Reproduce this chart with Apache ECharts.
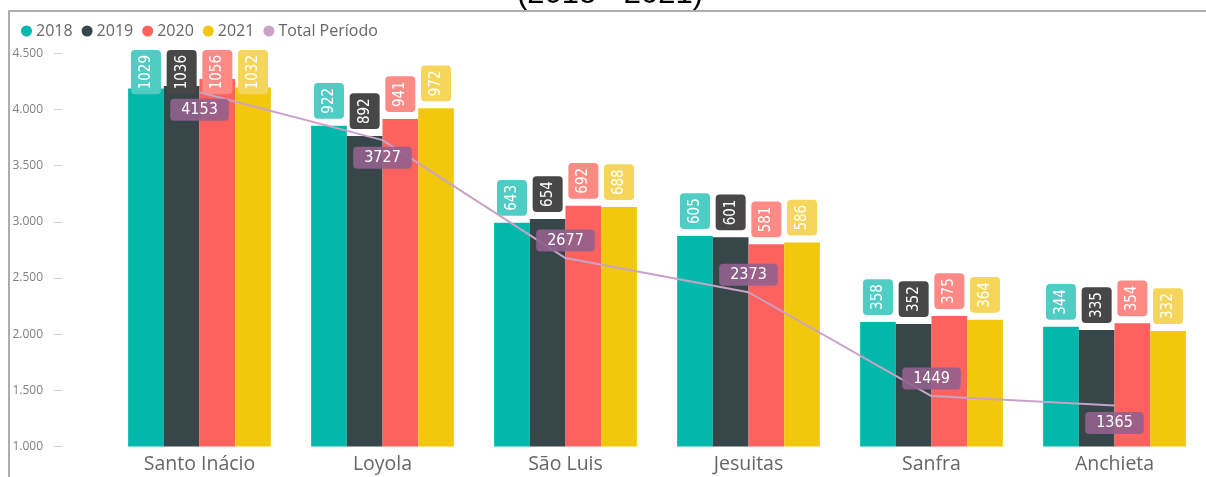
<!DOCTYPE html>
<html>
<head>
<meta charset="utf-8">
<script src="https://cdn.jsdelivr.net/npm/echarts@6/dist/echarts.min.js"></script>
<style>
html,body{margin:0;padding:0;background:#fff;}
#chart{width:1206px;height:477px;}
</style>
</head>
<body>
<div id="chart"></div>
<script>
const categories = ['Santo Inácio', 'Loyola', 'São Luis', 'Jesuitas', 'Sanfra', 'Anchieta'];
const years = ['2018', '2019', '2020', '2021'];
const values2018 = [1029, 922, 643, 605, 358, 344];
const values2019 = [1036, 892, 654, 601, 352, 335];
const values2020 = [1056, 941, 692, 581, 375, 354];
const values2021 = [1032, 972, 688, 586, 364, 332];
const totalPeriodo = [4153, 3727, 2677, 2373, 1449, 1365];
const totalName = 'Total Período';
const titleText = '(2018 - 2021)';

const barColors = ['#01B8AA', '#374649', '#FD625E', '#F2C80F'];
const labelBg = ['#4FCDC4', '#474747', '#FE8A86', '#F5D65A'];
const numFont = '"DejaVu Sans Condensed", "DejaVu Sans", sans-serif';
const uiFont = '"Open Sans", "Noto Sans", sans-serif';
const yearValues = [values2018, values2019, values2020, values2021];
const LABEL_TOP_LIMIT = 50;
const LABEL_DIST = 7;
const LABEL_FONT_SIZE = 15;
const LABEL_PAD = [6, 5];

function buildBarSeries(offsets) {
  return years.map((y, i) => ({
    name: y,
    type: 'bar',
    yAxisIndex: 1,
    data: yearValues[i].map((v, j) => {
      const d = offsets ? offsets[i][j] : 0;
      return d > 0 ? { value: v, label: { offset: [-d, 0] } } : v;
    }),
    barGap: '0%',
    barCategoryGap: '22%',
    itemStyle: { color: barColors[i] },
    z: 2,
    label: {
      show: true,
      position: 'top',
      rotate: 90,
      align: 'left',
      verticalAlign: 'middle',
      distance: LABEL_DIST,
      color: '#fff',
      fontSize: LABEL_FONT_SIZE,
      lineHeight: 18,
      fontFamily: numFont,
      backgroundColor: labelBg[i],
      borderRadius: 4,
      padding: LABEL_PAD
    }
  }));
}

const belowIdx = [0, 1, 5];
const lineSeries = {
  name: totalName,
  type: 'line',
  yAxisIndex: 0,
  data: totalPeriodo.map((v, i) => ({
    value: v,
    label: { position: belowIdx.indexOf(i) >= 0 ? 'bottom' : 'top' }
  })),
  color: '#C9A2C8',
  symbol: 'circle',
  symbolSize: 1,
  showSymbol: true,
  lineStyle: { color: '#C9A2C8', width: 2 },
  z: 5,
  label: {
    show: true,
    distance: 6,
    color: '#fff',
    fontSize: 16,
    lineHeight: 18,
    fontFamily: numFont,
    backgroundColor: 'rgba(146,96,142,0.9)',
    borderRadius: 4,
    padding: [2, 11]
  }
};

const chart = echarts.init(document.getElementById('chart'), null, { renderer: 'canvas' });
chart.setOption({
  animation: false,
  color: barColors,
  graphic: [
    {
      type: 'text',
      x: 610, y: -6,
      style: {
        text: titleText,
        font: '31px "Liberation Sans", Arial, sans-serif',
        fill: '#000',
        align: 'center',
        verticalAlign: 'middle'
      }
    },
    {
      type: 'polyline',
      shape: { points: [[9, 477], [9, 11], [1206, 11]] },
      style: { stroke: '#ADADAD', lineWidth: 2, fill: null }
    }
  ],
  legend: {
    left: 16,
    top: 17,
    icon: 'circle',
    itemWidth: 11,
    itemHeight: 11,
    itemGap: 9,
    data: years.concat([totalName]),
    textStyle: { fontSize: 16, color: '#666', fontFamily: uiFont, lineHeight: 18, padding: [0, 0, 0, -1] }
  },
  grid: { left: 108, top: 53.3, width: 1114.4, bottom: 30.5 },
  xAxis: {
    type: 'category',
    data: categories,
    axisLine: { show: false },
    axisTick: { show: false },
    axisLabel: { fontSize: 19.5, color: '#666', margin: 8, lineHeight: 20, fontFamily: uiFont }
  },
  yAxis: [
    {
      type: 'value',
      min: 1000,
      max: 4500,
      interval: 500,
      offset: 46,
      axisLine: { show: false },
      axisTick: { show: true, length: 8, lineStyle: { color: '#D0D0D0' } },
      splitLine: { show: false },
      axisLabel: {
        fontSize: 12,
        color: '#808080',
        margin: 19,
        fontFamily: uiFont,
        formatter: v => String(v).replace(/\B(?=(\d{3})+(?!\d))/g, '.')
      }
    },
    {
      type: 'value',
      min: 0,
      max: 1130,
      show: false,
      splitLine: { show: false }
    }
  ],
  series: buildBarSeries(null).concat([lineSeries])
});

// Clamp bar labels that would run above the plot area (as in the original)
const ctx = document.createElement('canvas').getContext('2d');
ctx.font = LABEL_FONT_SIZE + 'px ' + numFont;
const offsets = yearValues.map(arr => arr.map(v => {
  const top = chart.convertToPixel({ yAxisIndex: 1 }, v);
  const len = ctx.measureText(String(v)).width + LABEL_PAD[1] * 2;
  const boxTop = top - LABEL_DIST - len;
  return boxTop < LABEL_TOP_LIMIT ? LABEL_TOP_LIMIT - boxTop : 0;
}));
chart.setOption({ series: buildBarSeries(offsets).concat([lineSeries]) });
</script>
</body>
</html>
